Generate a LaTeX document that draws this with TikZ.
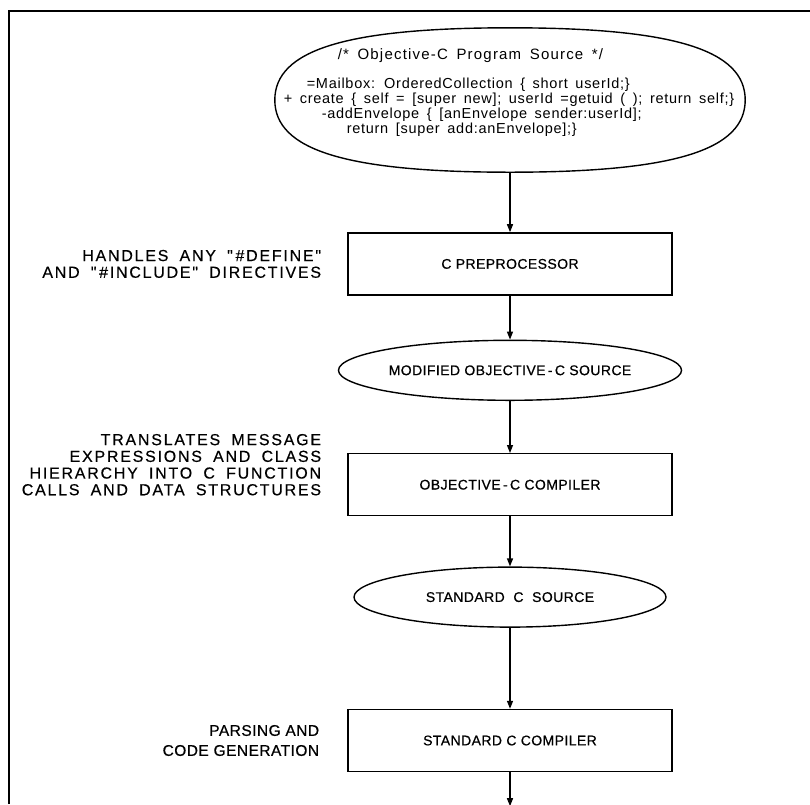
\documentclass[tikz,border=0pt]{standalone}
\usepackage{fontspec}
\usepackage{tikz}
\usetikzlibrary{shapes.geometric}
\usetikzlibrary{arrows.meta}
\usetikzlibrary{positioning}
\newfontfamily\codefont[LetterSpace=5, WordSpace=1.6]{Liberation Sans}
\newfontfamily\titlefont[LetterSpace=8, WordSpace=1.6]{Liberation Sans}
\newfontfamily\boxfont[LetterSpace=3, FakeBold=0.6]{Liberation Sans}
\newfontfamily\notefont[LetterSpace=11, WordSpace=1.8, FakeBold=0.4]{Liberation Sans}

\begin{document}
\begin{tikzpicture}[
  x=1pt, y=1pt,
  stage/.style={rectangle, draw, line width=1.4pt, minimum width=324pt, minimum height=62pt, inner sep=0pt, font=\boxfont\fontsize{14}{16}\selectfont},
  source/.style={ellipse, draw, line width=1.4pt, minimum width=312pt, minimum height=60pt, inner sep=0pt, font=\boxfont\fontsize{14}{16}\selectfont},
  note/.style={align=right, inner sep=0pt, font=\notefont\fontsize{16}{16.7}\selectfont},
  flow/.style={-{Triangle[length=8pt, width=6pt]}, line width=1.3pt},
]
\useasboundingbox (0,0) rectangle (810,-804);
\draw[line width=1.6pt] (9,-804) -- (9,-11) -- (810,-11);

%% program source (slightly fuller ellipse outline)
\node[ellipse, minimum width=470pt, minimum height=144pt] (prog) at (510,-100) {};
\draw[line width=1.4pt] (prog.west)
  .. controls ([yshift=50pt]prog.west) and ([xshift=-164pt]prog.north) .. (prog.north)
  .. controls ([xshift=164pt]prog.north) and ([yshift=50pt]prog.east) .. (prog.east)
  .. controls ([yshift=-50pt]prog.east) and ([xshift=164pt]prog.south) .. (prog.south)
  .. controls ([xshift=-164pt]prog.south) and ([yshift=-50pt]prog.west) .. (prog.west) -- cycle;
\node[align=left, inner sep=0pt, font=\codefont\fontsize{14.5}{15}\selectfont] (progtext) at (509,-93)
  {\hspace*{54pt}{\titlefont\fontsize{15}{15}\selectfont /* Objective-C Program Source */}\\[14pt]
   \hspace*{23pt}=Mailbox: OrderedCollection \{ short userId;\}\\
   + create \{ self = [super new]; userId =getuid ( ); return self;\}\\
   \hspace*{38pt}-addEnvelope \{ [anEnvelope sender:userId];\\
   \hspace*{63pt}return [super add:anEnvelope];\}};

%% stages
\node[stage, below=60pt of prog]   (prep)   {C PREPROCESSOR};
\node[source, below=44pt of prep]  (modsrc) {MODIFIED OBJECTIVE\,-\,C SOURCE};
\node[stage, below=52pt of modsrc] (objc)   {OBJECTIVE\,-\,C COMPILER};
\node[source, below=50pt of objc]  (stdsrc) {STANDARD~~C~~SOURCE};
\node[stage, below=81pt of stdsrc] (ccomp)  {STANDARD C COMPILER};
\coordinate[below=34pt of ccomp] (out);

%% notes
\node[note, left=26pt of prep] (prepnote) {HANDLES ANY "\,\#DEFINE"\\AND "\,\#INCLUDE" DIRECTIVES};
\node[note, left=26pt of objc, yshift=20pt] (objcnote) {TRANSLATES MESSAGE\\EXPRESSIONS AND CLASS\\HIERARCHY INTO C FUNCTION\\CALLS AND DATA STRUCTURES};
\node[note, left=28pt of ccomp, font=\boxfont\fontsize{15.5}{20}\selectfont] (ccompnote) {PARSING AND\\CODE GENERATION};

\draw[flow] (prog)   -- (prep);
\draw[flow] (prep)   -- (modsrc);
\draw[flow] (modsrc) -- (objc);
\draw[flow] (objc)   -- (stdsrc);
\draw[flow] (stdsrc) -- (ccomp);
\draw[flow] (ccomp)  -- (out);

\end{tikzpicture}
\end{document}
